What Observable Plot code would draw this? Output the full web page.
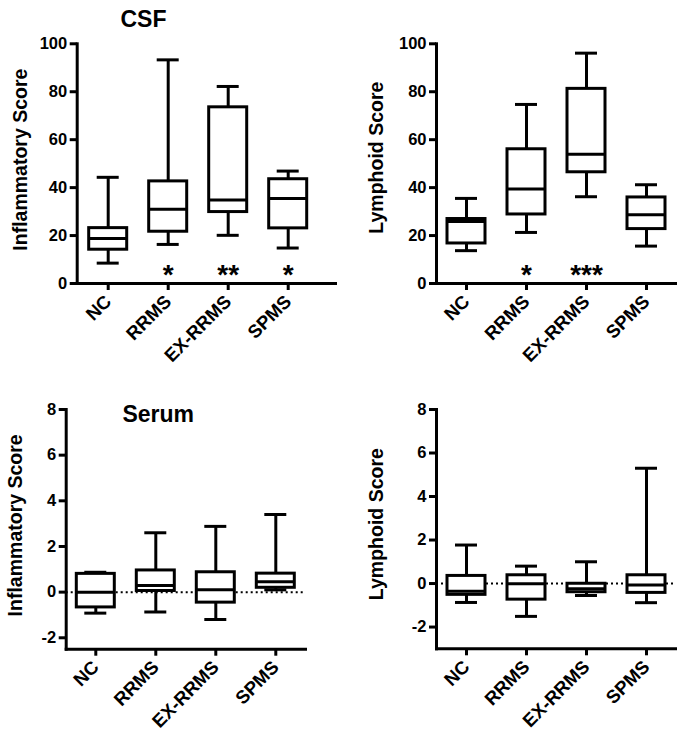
<!DOCTYPE html>
<html>
<head>
<meta charset="utf-8">
<script src="https://cdn.jsdelivr.net/npm/d3@7"></script>
<script src="https://cdn.jsdelivr.net/npm/@observablehq/plot@0.6"></script>
<style>
  html, body { margin: 0; padding: 0; background: #fff; }
  #wrap { position: relative; width: 683px; height: 739px; background: #fff; overflow: hidden; }
  .panel { position: absolute; }
</style>
</head>
<body>
<div id="wrap"></div>
<script>
// ---------- data ----------
const categories = ["NC", "RRMS", "EX-RRMS", "SPMS"];
const csfTicks = [0, 20, 40, 60, 80, 100];
const serumTicks = [-2, 0, 2, 4, 6, 8];

// CSF – Inflammatory score
const csfInflMin = [8.5, 16.3, 20.1, 14.8];
const csfInflQ1  = [14.1, 21.6, 29.8, 23.0];
const csfInflMed = [18.8, 31.0, 34.8, 35.5];
const csfInflQ3  = [23.1, 42.6, 73.5, 43.5];
const csfInflMax = [44.3, 93.3, 82.2, 46.9];
const csfInflStars = ["", "*", "**", "*"];

// CSF – Lymphoid score
const csfLymMin = [13.7, 21.3, 36.2, 15.6];
const csfLymQ1  = [16.7, 28.8, 46.4, 22.7];
const csfLymMed = [25.9, 39.4, 53.9, 28.7];
const csfLymQ3  = [26.9, 56.0, 81.2, 35.9];
const csfLymMax = [35.5, 74.7, 96.1, 41.2];
const csfLymStars = ["", "*", "***", ""];

// Serum – Inflammatory score
const serInflMin = [-0.92, -0.87, -1.20, 0.10];
const serInflQ1  = [-0.67, 0.05, -0.46, 0.19];
const serInflMed = [0.00, 0.29, 0.10, 0.46];
const serInflQ3  = [0.80, 0.95, 0.87, 0.81];
const serInflMax = [0.87, 2.60, 2.88, 3.40];

// Serum – Lymphoid score
const serLymMin = [-0.87, -1.51, -0.55, -0.88];
const serLymQ1  = [-0.52, -0.74, -0.40, -0.43];
const serLymMed = [-0.36, -0.01, -0.24, -0.07];
const serLymQ3  = [0.35, 0.38, -0.01, 0.38];
const serLymMax = [1.77, 0.80, 1.00, 5.30];

// ---------- drawing ----------
const FONT = "'Liberation Sans', Arial, Helvetica, sans-serif";
const Y_TICK_FONT = 16.5, X_TICK_FONT = 18.5;

function panel(cfg) {
  const rows = categories.map((c, i) => ({
    cat: c,
    min: cfg.min[i], q1: cfg.q1[i], med: cfg.med[i], q3: cfg.q3[i], max: cfg.max[i],
    star: cfg.stars ? cfg.stars[i] : ""
  }));
  const [y0, y1] = cfg.yDomain;
  const boxInset = 11, capInset = 19, sw = 3;
  const marks = [];
  if (cfg.zeroLine) {
    marks.push(Plot.ruleY([0], {stroke: "#000", strokeWidth: 2, strokeDasharray: "2,3"}));
  }
  marks.push(
    Plot.ruleX(rows, {x: "cat", y1: "min", y2: "q1", stroke: "#000", strokeWidth: sw}),
    Plot.ruleX(rows, {x: "cat", y1: "q3", y2: "max", stroke: "#000", strokeWidth: sw}),
    Plot.tickY(rows, {x: "cat", y: "min", insetLeft: capInset, insetRight: capInset, stroke: "#000", strokeWidth: sw}),
    Plot.tickY(rows, {x: "cat", y: "max", insetLeft: capInset, insetRight: capInset, stroke: "#000", strokeWidth: sw}),
    Plot.barY(rows, {x: "cat", y1: "q1", y2: "q3", fill: "#fff", stroke: "#000", strokeWidth: sw,
                     insetLeft: boxInset, insetRight: boxInset}),
    Plot.tickY(rows, {x: "cat", y: "med", insetLeft: boxInset, insetRight: boxInset, stroke: "#000", strokeWidth: sw}),
    Plot.frame({anchor: "left", stroke: "#000", strokeWidth: sw}),
    Plot.frame({anchor: "bottom", stroke: "#000", strokeWidth: sw}),
    Plot.axisY({ticks: cfg.ticks, tickSize: 7, tickPadding: 3, tickFormat: d => String(d),
                fontSize: Y_TICK_FONT, fontWeight: "bold", strokeWidth: sw, label: null}),
    Plot.axisX({tickSize: 7, tickPadding: 8, tickRotate: -45, fontSize: X_TICK_FONT, fontWeight: "bold",
                strokeWidth: sw, label: null}),
    Plot.text([cfg.ylabel], {frameAnchor: "left", rotate: -90, dx: cfg.ylabelDx, dy: cfg.ylabelDy,
                fontSize: 19.5, fontWeight: "bold", textAnchor: "middle", fill: "#000"})
  );
  if (cfg.stars) {
    const starY = y0 + 0.035 * (y1 - y0);
    marks.push(Plot.text(rows.filter(d => d.star), {x: "cat", y: () => starY, text: "star",
      fontSize: 28, fontWeight: "bold", fill: "#000"}));
  }
  if (cfg.title) {
    marks.push(Plot.text([cfg.title], {frameAnchor: "top-left", dx: cfg.titleDx, dy: cfg.titleDy,
      fontSize: 23, fontWeight: "bold", textAnchor: "middle", fill: "#000"}));
  }
  const svg = Plot.plot({
    width: cfg.width, height: cfg.height,
    marginLeft: cfg.ml, marginRight: cfg.mr, marginTop: cfg.mt, marginBottom: cfg.mb,
    x: {type: "band", domain: categories, range: cfg.xRange, padding: 0, round: false},
    y: {domain: cfg.yDomain},
    style: {fontFamily: FONT, fontWeight: "bold", color: "#000", background: "#fff", overflow: "visible"},
    marks
  });
  // make sure tick label sizes are applied
  svg.querySelectorAll('g[aria-label^="y-axis tick label"] text').forEach(t => {
    t.style.fontSize = Y_TICK_FONT + "px"; t.style.fontWeight = "bold";
  });
  svg.querySelectorAll('g[aria-label^="x-axis tick label"] text').forEach(t => {
    t.style.fontSize = X_TICK_FONT + "px"; t.style.fontWeight = "bold";
  });
  const div = document.createElement("div");
  div.className = "panel";
  div.style.left = cfg.left + "px";
  div.style.top = cfg.top + "px";
  div.appendChild(svg);
  document.getElementById("wrap").appendChild(div);
}

// top-left: CSF inflammatory
panel({
  left: 0, top: 0, width: 341, height: 370,
  ml: 76.7, mr: 6, mt: 43.3, mb: 87,
  xRange: [77.7, 317.7], yDomain: [0, 100], ticks: csfTicks,
  min: csfInflMin, q1: csfInflQ1, med: csfInflMed, q3: csfInflQ3, max: csfInflMax,
  stars: csfInflStars,
  ylabel: "Inflammatory Score", ylabelDx: 20.5 - 76.7, ylabelDy: -4,
  title: "CSF", titleDx: 143 - 76.7, titleDy: 10 - 43.3
});

// top-right: CSF lymphoid
panel({
  left: 341, top: 0, width: 342, height: 370,
  ml: 95, mr: 8, mt: 43.3, mb: 87,
  xRange: [95, 335], yDomain: [0, 100], ticks: csfTicks,
  min: csfLymMin, q1: csfLymQ1, med: csfLymMed, q3: csfLymQ3, max: csfLymMax,
  stars: csfLymStars,
  ylabel: "Lymphoid Score", ylabelDx: 35 - 95, ylabelDy: -6
});

// bottom-left: Serum inflammatory
panel({
  left: 0, top: 370, width: 341, height: 369,
  ml: 65.7, mr: 36, mt: 39, mb: 90.3,
  xRange: [65.3, 305.3], yDomain: [-2.5, 8], ticks: serumTicks,
  min: serInflMin, q1: serInflQ1, med: serInflMed, q3: serInflQ3, max: serInflMax,
  zeroLine: true,
  ylabel: "Inflammatory Score", ylabelDx: 15.1 - 65.7, ylabelDy: -4,
  title: "Serum", titleDx: 157.7 - 65.7, titleDy: 35 - 39
});

// bottom-right: Serum lymphoid
panel({
  left: 341, top: 370, width: 342, height: 369,
  ml: 95, mr: 8, mt: 39, mb: 90.7,
  xRange: [95, 335], yDomain: [-3, 8], ticks: serumTicks,
  min: serLymMin, q1: serLymQ1, med: serLymMed, q3: serLymQ3, max: serLymMax,
  zeroLine: true,
  ylabel: "Lymphoid Score", ylabelDx: 35 - 95, ylabelDy: -5
});
</script>
</body>
</html>
